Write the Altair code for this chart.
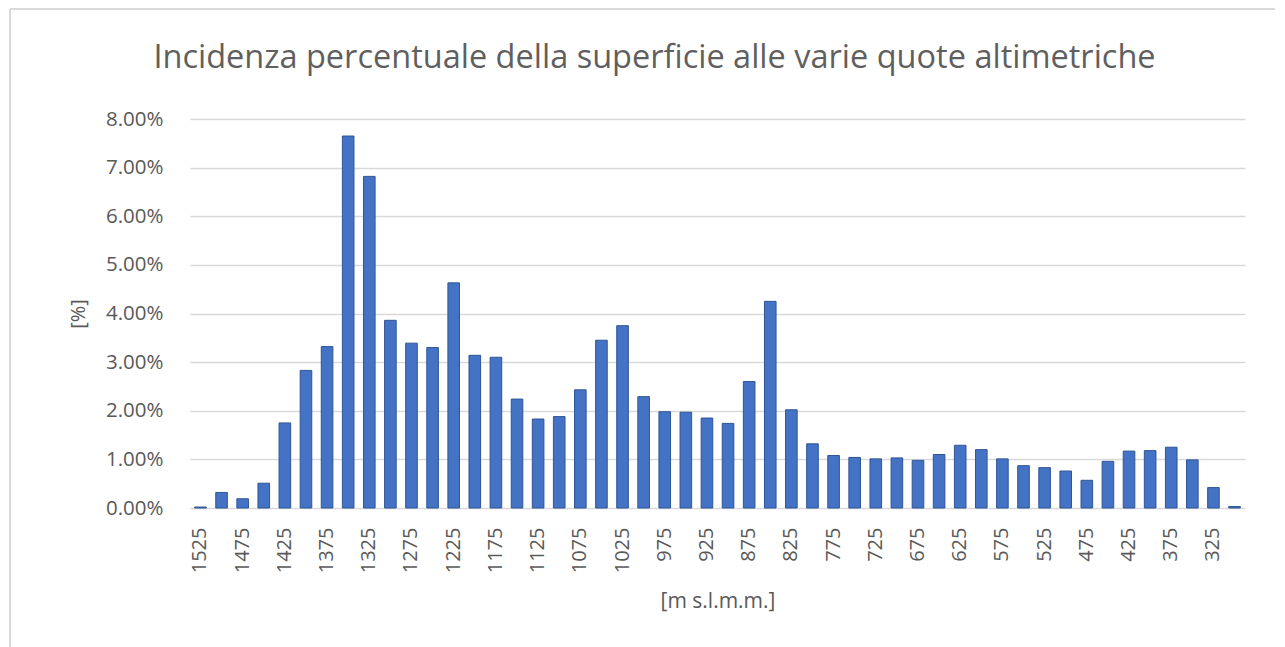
import altair as alt
import pandas as pd

quote = [1525, 1500, 1475, 1450, 1425, 1400, 1375, 1350, 1325, 1300,
         1275, 1250, 1225, 1200, 1175, 1150, 1125, 1100, 1075, 1050,
         1025, 1000, 975, 950, 925, 900, 875, 850, 825, 800,
         775, 750, 725, 700, 675, 650, 625, 600, 575, 550,
         525, 500, 475, 450, 425, 400, 375, 350, 325, 300]
percent = [0.02, 0.32, 0.19, 0.51, 1.75, 2.83, 3.32, 7.65, 6.82, 3.86,
           3.39, 3.30, 4.63, 3.14, 3.10, 2.24, 1.83, 1.88, 2.43, 3.45,
           3.75, 2.29, 1.98, 1.97, 1.85, 1.74, 2.60, 4.25, 2.02, 1.32,
           1.08, 1.04, 1.01, 1.03, 0.98, 1.10, 1.29, 1.20, 1.01, 0.87,
           0.83, 0.76, 0.57, 0.96, 1.17, 1.18, 1.25, 0.99, 0.42, 0.03]
x_labels = [str(q) for q in quote[::2]]
y_ticks = [0, 0.01, 0.02, 0.03, 0.04, 0.05, 0.06, 0.07, 0.08]

df = pd.DataFrame({"quota": [str(q) for q in quote],
                   "valore": [p / 100 for p in percent]})

FONT = "Open Sans"
GREY = "#595959"

bars = alt.Chart(df).mark_bar(color="#4472C4", stroke="#2F5597", strokeWidth=1).encode(
    x=alt.X("quota:N", sort=[str(q) for q in quote],
            scale=alt.Scale(paddingInner=0.45, paddingOuter=0.22),
            axis=alt.Axis(values=x_labels, title="[m s.l.m.m.]", labelAngle=270,
                          labelAlign="right", labelBaseline="middle",
                          labelPadding=19, titlePadding=18, ticks=False, domain=False,
                          grid=False,
                          labelFont=FONT, labelFontSize=20, labelColor=GREY,
                          titleFont=FONT, titleFontSize=21, titleColor=GREY,
                          titleFontWeight="normal")),
    y=alt.Y("valore:Q", scale=alt.Scale(domain=[0, 0.08]),
            axis=alt.Axis(values=y_ticks, format=".2%", title="[%]",
                          labelPadding=27, titlePadding=17, ticks=False, domain=False,
                          grid=True, gridColor="#D9D9D9", gridWidth=1.5,
                          labelFont=FONT, labelFontSize=20.5, labelColor=GREY,
                          titleFont=FONT, titleFontSize=20, titleColor=GREY,
                          titleFontWeight="normal")),
)

border_top = alt.Chart(df).mark_rule(color="#D9D9D9", strokeWidth=2).encode(
    x=alt.value(-180), x2=alt.value(1100), y=alt.value(-110))
border_left = alt.Chart(df).mark_rule(color="#D9D9D9", strokeWidth=2).encode(
    x=alt.value(-180), y=alt.value(-110), y2=alt.value(560))

chart = alt.layer(border_top, border_left, bars).properties(
    width=1055, height=389,
    view=alt.ViewBackground(stroke="transparent", strokeWidth=0),
    title=alt.TitleParams("Incidenza percentuale della superficie alle varie quote altimetriche",
                          font=FONT, fontSize=32.5, fontWeight="normal", color="#5F5F5F",
                          anchor="middle", dx=-63, offset=0, dy=66),
    autosize=alt.AutoSizeParams(type="none"),
    padding={"left": 182, "top": 111, "right": 30, "bottom": 150},
).configure(background="white").configure_view(strokeWidth=0, stroke="transparent")

chart.save("out.html", embed_options={"renderer": "svg", "actions": False})
